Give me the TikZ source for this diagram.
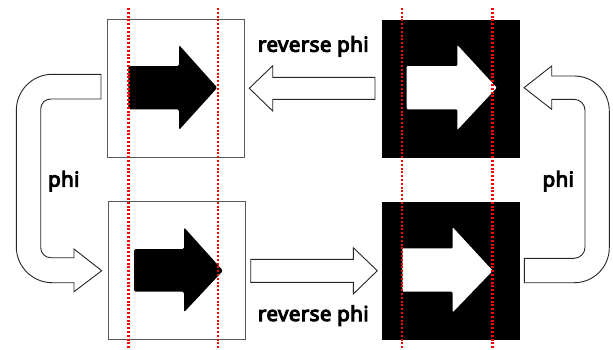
\documentclass[tikz,border=0pt]{standalone}
\usepackage{fontspec}
\newfontfamily\lblfont{Noto Sans}[FakeBold=5, LetterSpace=2]
\tikzset{
  framebox/.style={draw=black!65, line width=0.8pt, fill=white, minimum width=137pt, minimum height=138pt, inner sep=0pt},
  darkbox/.style={draw=black, fill=black, minimum width=137pt, minimum height=137pt, inner sep=0pt},
  blockarrow/.style={draw=black!85, fill=white, line width=0.9pt, line join=miter},
  solidarrow/.style={fill=black, rounded corners=1.5pt},
  whitearrow/.style={fill=white, rounded corners=1pt},
  guide/.style={red, line width=2.4pt, dash pattern=on 1.9pt off 1.9pt},
  lbl/.style={font=\lblfont\fontsize{20.5}{24}\selectfont, inner sep=0pt, anchor=base}
}
\begin{document}
\begin{tikzpicture}[x=1pt,y=-1pt]
\useasboundingbox (0,0) rectangle (613,349);
\fill[white] (0,0) rectangle (613,349);
% boxes
\node[framebox] (tl) at (175.6,88.3) {};
\node[framebox] (bl) at (177,270.5) {};
\node[darkbox] (tr) at (450.2,88.3) {};
\node[darkbox] (br) at (450.3,270.7) {};
% inner arrows
\fill[solidarrow] (128.3,66) -- (179,66) -- (179,45) -- (217.3,87.7) -- (179,130) -- (179,109.3) -- (128.3,109.3) -- cycle;
\fill[solidarrow] (134,249) -- (184,249) -- (184,227.3) -- (223,270.7) -- (184,312.3) -- (184,291.7) -- (134,291.7) -- cycle;
\fill[whitearrow] (406.7,66) -- (457.3,66) -- (457.3,45) -- (496.7,87.7) -- (457.3,130) -- (457.3,109.3) -- (406.7,109.3) -- cycle;
\fill[whitearrow] (402.3,248.3) -- (452.7,248.3) -- (452.7,227.3) -- (492.7,270.7) -- (452.7,312.3) -- (452.7,291.7) -- (402.3,291.7) -- cycle;
% straight hollow arrows
\draw[blockarrow] (375,77.3) -- (272.7,77.3) -- (272.7,65.7) -- (249.3,88.3) -- (272.7,111) -- (272.7,99.3) -- (375,99.3) -- cycle;
\draw[blockarrow] (250.7,259.3) -- (353.3,259.3) -- (353.3,247.7) -- (377.3,270.7) -- (353.3,294) -- (353.3,282.3) -- (250.7,282.3) -- cycle;
% left curved arrow
\draw[blockarrow] (101,74.3) -- (52.3,74.3) arc[start angle=270, end angle=180, radius=36] -- (16.3,246.7) arc[start angle=180, end angle=90, radius=36] -- (74,282.7) -- (74,291.7) -- (101.7,270.7) -- (74,249) -- (74,257.7) -- (50.7,257.7) arc[start angle=90, end angle=180, radius=10] -- (40.7,109) arc[start angle=180, end angle=270, radius=10] -- (101,99) -- cycle;
% right curved arrow
\draw[blockarrow] (524.3,282.7) -- (574.3,282.7) arc[start angle=90, end angle=0, radius=35] -- (609.3,111) arc[start angle=0, end angle=-90, radius=35] -- (551.7,76) -- (551.7,66) -- (524,87.7) -- (551.7,109.3) -- (551.7,99.3) -- (574,99.3) arc[start angle=-90, end angle=0, radius=11] -- (585,247.3) arc[start angle=0, end angle=90, radius=11] -- (524.3,258.3) -- cycle;
% guides
\draw[guide] (128.3,8) -- (128.3,349);
\draw[guide] (217.7,8) -- (217.7,349);
\draw[guide] (402,8) -- (402,349);
\draw[guide] (492.3,8) -- (492.3,349);
% labels
\node[lbl] (rt) at (313.3,51.7) {reverse phi};
\node[lbl] (rb) at (313.3,321) {reverse phi};
\node[lbl] (pl) at (63.8,186.5) {phi};
\node[lbl] (pr) at (558.3,186.5) {phi};
\end{tikzpicture}
\end{document}
